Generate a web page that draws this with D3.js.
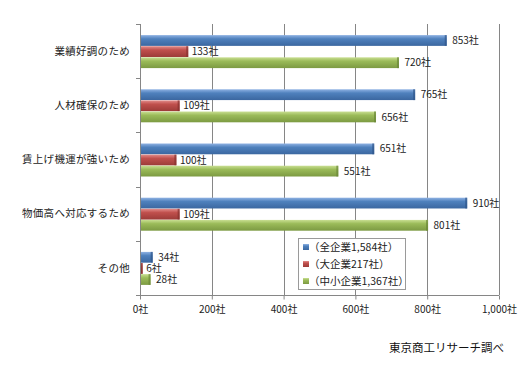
<!DOCTYPE html>
<html><head><meta charset="utf-8">
<script src="https://cdn.jsdelivr.net/npm/d3@7"></script>
<style>
html,body{margin:0;padding:0;background:#fff;}
svg{display:block;font-family:"Noto Sans CJK JP","Noto Sans",sans-serif;}
</style></head>
<body><svg id="c" width="532" height="368"></svg>
<script>
const categories = ["業績好調のため","人材確保のため","賃上げ機運が強いため","物価高へ対応するため","その他"];
const seriesNames = ["（全企業1,584社）","（大企業217社）","（中小企業1,367社）"];
const allFirms = [853,765,651,910,34];
const largeFirms = [133,109,100,109,6];
const smeFirms = [720,656,551,801,28];
const xTicks = [0,200,400,600,800,1000];
const sourceText = "東京商工リサーチ調べ";

const series = [allFirms, largeFirms, smeFirms];
const colors = [
  {top:"#8fb2e3", mid:"#4f81bd", bot:"#3b67a0", end:"#2f5689"},
  {top:"#e28c8a", mid:"#c0504d", bot:"#9c3b38", end:"#84302e"},
  {top:"#c9df92", mid:"#9bbb59", bot:"#7c9a42", end:"#6a8637"}
];

const svg = d3.select("#c");
const defs = svg.append("defs");
colors.forEach((c,i)=>{
  const g = defs.append("linearGradient").attr("id","g"+i).attr("x1",0).attr("y1",0).attr("x2",0).attr("y2",1);
  g.append("stop").attr("offset","0%").attr("stop-color",c.top);
  g.append("stop").attr("offset","35%").attr("stop-color",c.mid);
  g.append("stop").attr("offset","100%").attr("stop-color",c.bot);
});

const x = d3.scaleLinear().domain([0,1000]).range([140,499]);
const y = d3.scaleBand().domain(categories).range([24,295]).paddingInner(0).paddingOuter(0);
const inner = d3.scaleBand().domain([0,1,2]).range([0,33]).paddingInner(0.03);
const groupOffset = (y.bandwidth()-33)/2 + 0.5;

// gridlines
svg.append("g").selectAll("line").data(xTicks.slice(1)).join("line")
  .attr("x1",d=>Math.round(x(d))+0.5).attr("x2",d=>Math.round(x(d))+0.5)
  .attr("y1",24).attr("y2",295).attr("stroke","#868686").attr("stroke-width",1);

// bars
series.forEach((vals,si)=>{
  const g = svg.append("g");
  g.selectAll("rect").data(vals).join("rect")
    .attr("x",x(0)+0.5)
    .attr("y",(d,i)=>y(categories[i])+groupOffset+inner(si))
    .attr("width",d=>Math.max(1,x(d)-x(0)))
    .attr("height",inner.bandwidth())
    .attr("fill","url(#g"+si+")");
  g.selectAll("rect.cap").data(vals).join("rect").attr("class","cap")
    .attr("x",d=>x(0)+Math.max(1,x(d)-x(0))-1.5)
    .attr("y",(d,i)=>y(categories[i])+groupOffset+inner(si))
    .attr("width",2)
    .attr("height",inner.bandwidth())
    .attr("fill",colors[si].end).attr("opacity",0.7);
  g.selectAll("text").data(vals).join("text")
    .attr("x",d=>x(d)+(si===1?4:6))
    .attr("y",(d,i)=>y(categories[i])+groupOffset+inner(si)+inner.bandwidth()/2)
    .attr("dy","0.36em")
    .attr("font-size",10).attr("fill","#222")
    .text(d=>d3.format(",")(d)+"社");
});

// y axis
svg.append("line").attr("x1",140.5).attr("x2",140.5).attr("y1",24).attr("y2",295).attr("stroke","#868686");
const yBounds = [24].concat(categories.map(c=>y(c)+y.bandwidth()));
svg.append("g").selectAll("line").data(yBounds).join("line")
  .attr("x1",136).attr("x2",140.5).attr("y1",d=>Math.round(d)+0.5).attr("y2",d=>Math.round(d)+0.5)
  .attr("stroke","#868686");
svg.append("g").selectAll("text").data(categories).join("text")
  .attr("x",130).attr("y",d=>y(d)+y.bandwidth()/2).attr("dy","0.36em")
  .attr("text-anchor","end").attr("font-size",10.5).attr("letter-spacing",0.3).attr("fill","#222")
  .text(d=>d);

// x axis
const xAxis = d3.axisBottom(x).tickValues(xTicks).tickSize(4).tickPadding(6)
  .tickFormat(d=>d3.format(",")(d)+"社");
const xg = svg.append("g").attr("transform","translate(0,295.5)").call(xAxis);
xg.select(".domain").attr("stroke","#868686").attr("d","M140,0H499");
xg.selectAll(".tick line").attr("stroke","#868686");
xg.selectAll(".tick text").attr("font-size",10).attr("fill","#222")
  .attr("font-family","\"Noto Sans CJK JP\",sans-serif");

// legend
const lg = svg.append("g");
lg.append("rect").attr("x",298.5).attr("y",238.5).attr("width",107).attr("height",51)
  .attr("fill","#fff").attr("stroke","#9a9a9a");
seriesNames.forEach((n,i)=>{
  const cy = 247 + i*17;
  lg.append("rect").attr("x",303).attr("y",cy-3).attr("width",6).attr("height",6).attr("fill","url(#g"+i+")");
  lg.append("text").attr("x",309).attr("y",cy).attr("dy","0.36em").attr("font-size",10.5).attr("fill","#222").text(n);
});

// source
svg.append("text").attr("x",504).attr("y",348).attr("dy","0.36em").attr("text-anchor","end")
  .attr("font-size",11.5).attr("fill","#111").text(sourceText);
</script></body></html>
